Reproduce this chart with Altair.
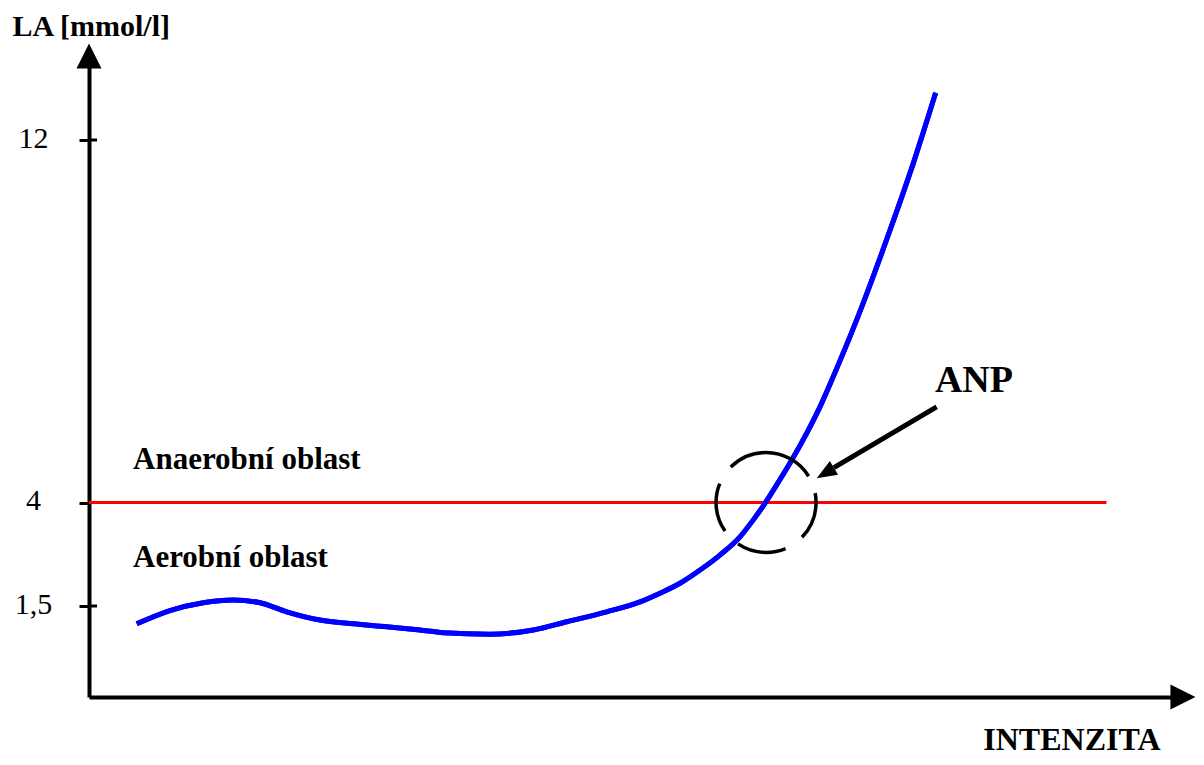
import altair as alt
import pandas as pd

# ---- data ----
intensity = [4.34, 7.36, 10.39, 13.12, 15.55, 17.97, 21.0, 24.03, 27.06, 30.09, 32.21,
             36.45, 40.39, 43.43, 47.06, 50.09, 51.91, 53.73, 55.55, 57.36, 59.18, 60.39,
             61.45, 62.52, 63.73, 65.25, 66.45, 67.52, 69.79, 72.82, 74.94, 76.97]
lactate = [1.07, 1.39, 1.58, 1.645, 1.58, 1.36, 1.16, 1.07, 1.0, 0.92, 0.855,
           0.82, 0.92, 1.12, 1.36, 1.60, 1.81, 2.05, 2.37, 2.73, 3.17, 3.58,
           3.98, 4.39, 4.87, 5.53, 6.11, 6.70, 8.03, 10.01, 11.49, 13.04]

tick_values = [1.5, 4, 12]
tick_labels = ["1,5", "4", "12"]
cross_ticks = [12, 1.5]

threshold_la = [4]
threshold_from = [0]
threshold_to = [92.5]

zone_text = ["Anaerobní oblast", "Aerobní oblast", "ANP"]
zone_x = [4.0, 4.0, 76.9]
zone_y = [4.73, 2.45, 6.43]
zone_size = [31, 31, 38]

anp_x = [61.55]
anp_y = [4.0]

arrow_x = [77.06]
arrow_y = [6.11]
arrow_x2 = [67.72]
arrow_y2 = [4.77]
head_x = [66.94]
head_y = [4.65]
head_angle = [239.3]

x_domain = [0, 99]
y_domain = [-0.7, 1.5, 4, 12, 13.85]
y_range = [641, 550, 446.5, 84, 0]

axis_head_x = [0, 99.45]
axis_head_y = [13.85, -0.7]
axis_head_angle = [0, 90]

X_TITLE = "INTENZITA"
Y_TITLE = "LA [mmol/l]"
FONT = "Liberation Serif"

xs = alt.Scale(domain=x_domain, nice=False, zero=False)
ys = alt.Scale(domain=y_domain, range=y_range, nice=False, zero=False)

label_expr = " : ".join(f"datum.value == {v} ? '{l}'" for v, l in zip(tick_values, tick_labels)) + " : ''"


def X(field):
    return alt.X(field, scale=xs, title=X_TITLE)


def Y(field):
    return alt.Y(field, scale=ys, title=Y_TITLE)


df_curve = pd.DataFrame({"intensity": intensity, "la": lactate})

# first layer carries the axis definitions
axes_layer = alt.Chart(df_curve).mark_line(
    color="#0000FF", strokeWidth=5, interpolate="monotone"
).encode(
    x=alt.X("intensity:Q", scale=xs, title=X_TITLE, axis=alt.Axis(
        labels=False, ticks=False, grid=False,
        domainColor="black", domainWidth=4,
        titleFont=FONT, titleFontSize=32, titleFontWeight="bold", titleColor="black",
        titleAlign="right", titleBaseline="alphabetic", titleX=1071, titleY=52.5)),
    y=alt.Y("la:Q", scale=ys, title=Y_TITLE, axis=alt.Axis(
        values=tick_values, labelExpr=label_expr, grid=False,
        domainColor="black", domainWidth=4,
        ticks=True, tickSize=10, tickWidth=3, tickColor="black",
        labelFont=FONT, labelFontSize=30, labelColor="black", labelAlign="center",
        labelBaseline="alphabetic", labelOffset=7, labelPadding=46,
        titleFont=FONT, titleFontSize=30, titleFontWeight="bold", titleColor="black",
        titleAngle=0, titleAlign="left", titleBaseline="alphabetic",
        titleX=-77, titleY=-21)),
)

df_thr = pd.DataFrame({"x": threshold_from, "x2": threshold_to, "y": threshold_la})
threshold = alt.Chart(df_thr).mark_rule(color="#FF0000", strokeWidth=3).encode(
    x=X("x:Q"), x2="x2:Q", y=Y("y:Q"))

curve = alt.Chart(df_curve).mark_line(
    color="#0000FF", strokeWidth=5, interpolate="monotone"
).encode(x=X("intensity:Q"), y=Y("la:Q"))

df_cross = pd.DataFrame({"y": cross_ticks, "x": [0] * len(cross_ticks), "x2": [0.73] * len(cross_ticks)})
crosses = alt.Chart(df_cross).mark_rule(color="black", strokeWidth=3).encode(
    x=X("x:Q"), x2="x2:Q", y=Y("y:Q"))

df_anp = pd.DataFrame({"x": anp_x, "y": anp_y})
circle = alt.Chart(df_anp).mark_point(
    shape="circle", size=10000, filled=False, color="black", strokeWidth=3.5, opacity=1,
    strokeDash=[48, 20, 49.7, 18.3, 49.7, 20, 89.9, 18.3], strokeDashOffset=9.6
).encode(x=X("x:Q"), y=Y("y:Q"))

df_arrow = pd.DataFrame({"x": arrow_x, "y": arrow_y, "x2": arrow_x2, "y2": arrow_y2})
arrow = alt.Chart(df_arrow).mark_rule(color="black", strokeWidth=5).encode(
    x=X("x:Q"), y=Y("y:Q"), x2="x2:Q", y2="y2:Q")

df_head = pd.DataFrame({"x": head_x, "y": head_y, "a": head_angle})
head = alt.Chart(df_head).mark_point(
    shape="M0,-1L-0.8,1L0.8,1Z", size=400, filled=True, color="black", opacity=1
).encode(x=X("x:Q"), y=Y("y:Q"), angle=alt.Angle("a:Q", scale=None))

df_axhead = pd.DataFrame({"x": axis_head_x, "y": axis_head_y, "a": axis_head_angle})
axis_heads = alt.Chart(df_axhead).mark_point(
    shape="M0,-1L-1,1L1,1Z", size=625, filled=True, color="black", opacity=1
).encode(x=X("x:Q"), y=Y("y:Q"), angle=alt.Angle("a:Q", scale=None))

df_text = pd.DataFrame({"x": zone_x, "y": zone_y, "t": zone_text, "s": zone_size})
texts = alt.Chart(df_text).mark_text(
    font=FONT, fontWeight="bold", color="black", align="left", baseline="alphabetic"
).encode(x=X("x:Q"), y=Y("y:Q"), text="t:N", size=alt.Size("s:Q", scale=None))

chart = alt.layer(axes_layer, threshold, curve, circle, arrow, head, crosses, axis_heads, texts).properties(
    width=1089, height=641,
    autosize=alt.AutoSizeParams(type="none"),
    padding={"left": 81, "top": 48, "right": 18, "bottom": 60},
    background="white",
).configure_view(stroke=None)

chart.save("out.html", embed_options={"renderer": "svg", "actions": False})
